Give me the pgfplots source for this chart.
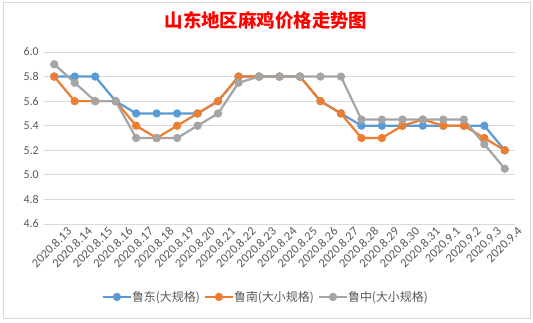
\documentclass[border=0pt]{standalone}
\usepackage{pgfplots}
\pgfplotsset{compat=1.18}
\usepackage{fontspec}
\setmainfont{Carlito}
\newfontfamily\cjk{Noto Sans CJK SC}
\definecolor{cblue}{HTML}{5B9BD5}
\definecolor{corange}{HTML}{ED7D31}
\definecolor{cgray}{HTML}{A5A5A5}
\definecolor{gridc}{HTML}{D9D9D9}
\definecolor{tickc}{HTML}{595959}
\begin{document}
\begin{tikzpicture}[x=1bp,y=1bp]
\fill[white] (0,0) rectangle (533,322);
\useasboundingbox (0,0) rectangle (533,322);
\draw[gridc,line width=0.8bp] (3,4) rectangle (530,320);
\node[text=red,font=\cjk\bfseries\fontsize{18.5}{22}\selectfont] at (266,302) {山东地区麻鸡价格走势图};
\begin{axis}[
  at={(44bp,98bp)}, anchor=south west,
  scale only axis, width=471bp, height=172bp,
  xmin=-0.5, xmax=22.5, ymin=4.6, ymax=6.0,
  ytick={4.6,4.8,5.0,5.2,5.4,5.6,5.8,6.0},
  /pgf/number format/fixed,
  /pgf/number format/fixed zerofill,
  /pgf/number format/precision=1,
  /pgf/number format/assume math mode=true,
  yticklabel style={font=\fontsize{12}{14}\selectfont, text=tickc, inner sep=2bp, xshift=-3bp},
  xtick={0,...,22},
  xticklabels={2020.8.13,2020.8.14,2020.8.15,2020.8.16,2020.8.17,2020.8.18,2020.8.19,2020.8.20,2020.8.21,2020.8.22,2020.8.23,2020.8.24,2020.8.25,2020.8.26,2020.8.27,2020.8.28,2020.8.29,2020.8.30,2020.8.31,2020.9.1,2020.9.2,2020.9.3,2020.9.4},
  xticklabel style={rotate=45, anchor=north east, font=\fontsize{12.5}{14}\selectfont, text=tickc, inner sep=1bp, xshift=8bp, yshift=-9bp},
  ymajorgrids, grid style={gridc, line width=0.8bp},
  axis line style={draw=none},
  major tick length=0pt,
  tick style={draw=none},
  legend columns=3,
  legend style={at={(0.471,-0.424)}, anchor=center, draw=none, fill=none,
    font=\cjk\fontsize{12}{14}\selectfont, text=tickc,
    /tikz/every even column/.append style={column sep=2bp},
    /tikz/every odd column/.append style={column sep=-2bp}},
  legend cell align=left,
  legend image code/.code={\draw[mark repeat=2,mark phase=2] plot coordinates {(0bp,0bp)(14bp,0bp)(28bp,0bp)};},
  every axis plot/.append style={line width=2.2bp, mark=*, mark size=3bp},
]
\addplot[cblue, mark options={fill=cblue}] coordinates {
(0,5.8)(1,5.8)(2,5.8)(3,5.6)(4,5.5)(5,5.5)(6,5.5)(7,5.5)(8,5.6)(9,5.8)(10,5.8)(11,5.8)(12,5.8)(13,5.6)(14,5.5)(15,5.4)(16,5.4)(17,5.4)(18,5.4)(19,5.4)(20,5.4)(21,5.4)(22,5.2)};
\addlegendentry{鲁东(大规格)}
\addplot[corange, mark options={fill=corange}] coordinates {
(0,5.8)(1,5.6)(2,5.6)(3,5.6)(4,5.4)(5,5.3)(6,5.4)(7,5.5)(8,5.6)(9,5.8)(10,5.8)(11,5.8)(12,5.8)(13,5.6)(14,5.5)(15,5.3)(16,5.3)(17,5.4)(18,5.45)(19,5.4)(20,5.4)(21,5.3)(22,5.2)};
\addlegendentry{鲁南(大小规格)}
\addplot[cgray, mark options={fill=cgray}] coordinates {
(0,5.9)(1,5.75)(2,5.6)(3,5.6)(4,5.3)(5,5.3)(6,5.3)(7,5.4)(8,5.5)(9,5.75)(10,5.8)(11,5.8)(12,5.8)(13,5.8)(14,5.8)(15,5.45)(16,5.45)(17,5.45)(18,5.45)(19,5.45)(20,5.45)(21,5.25)(22,5.05)};
\addlegendentry{鲁中(大小规格)}
\end{axis}
\end{tikzpicture}
\end{document}
